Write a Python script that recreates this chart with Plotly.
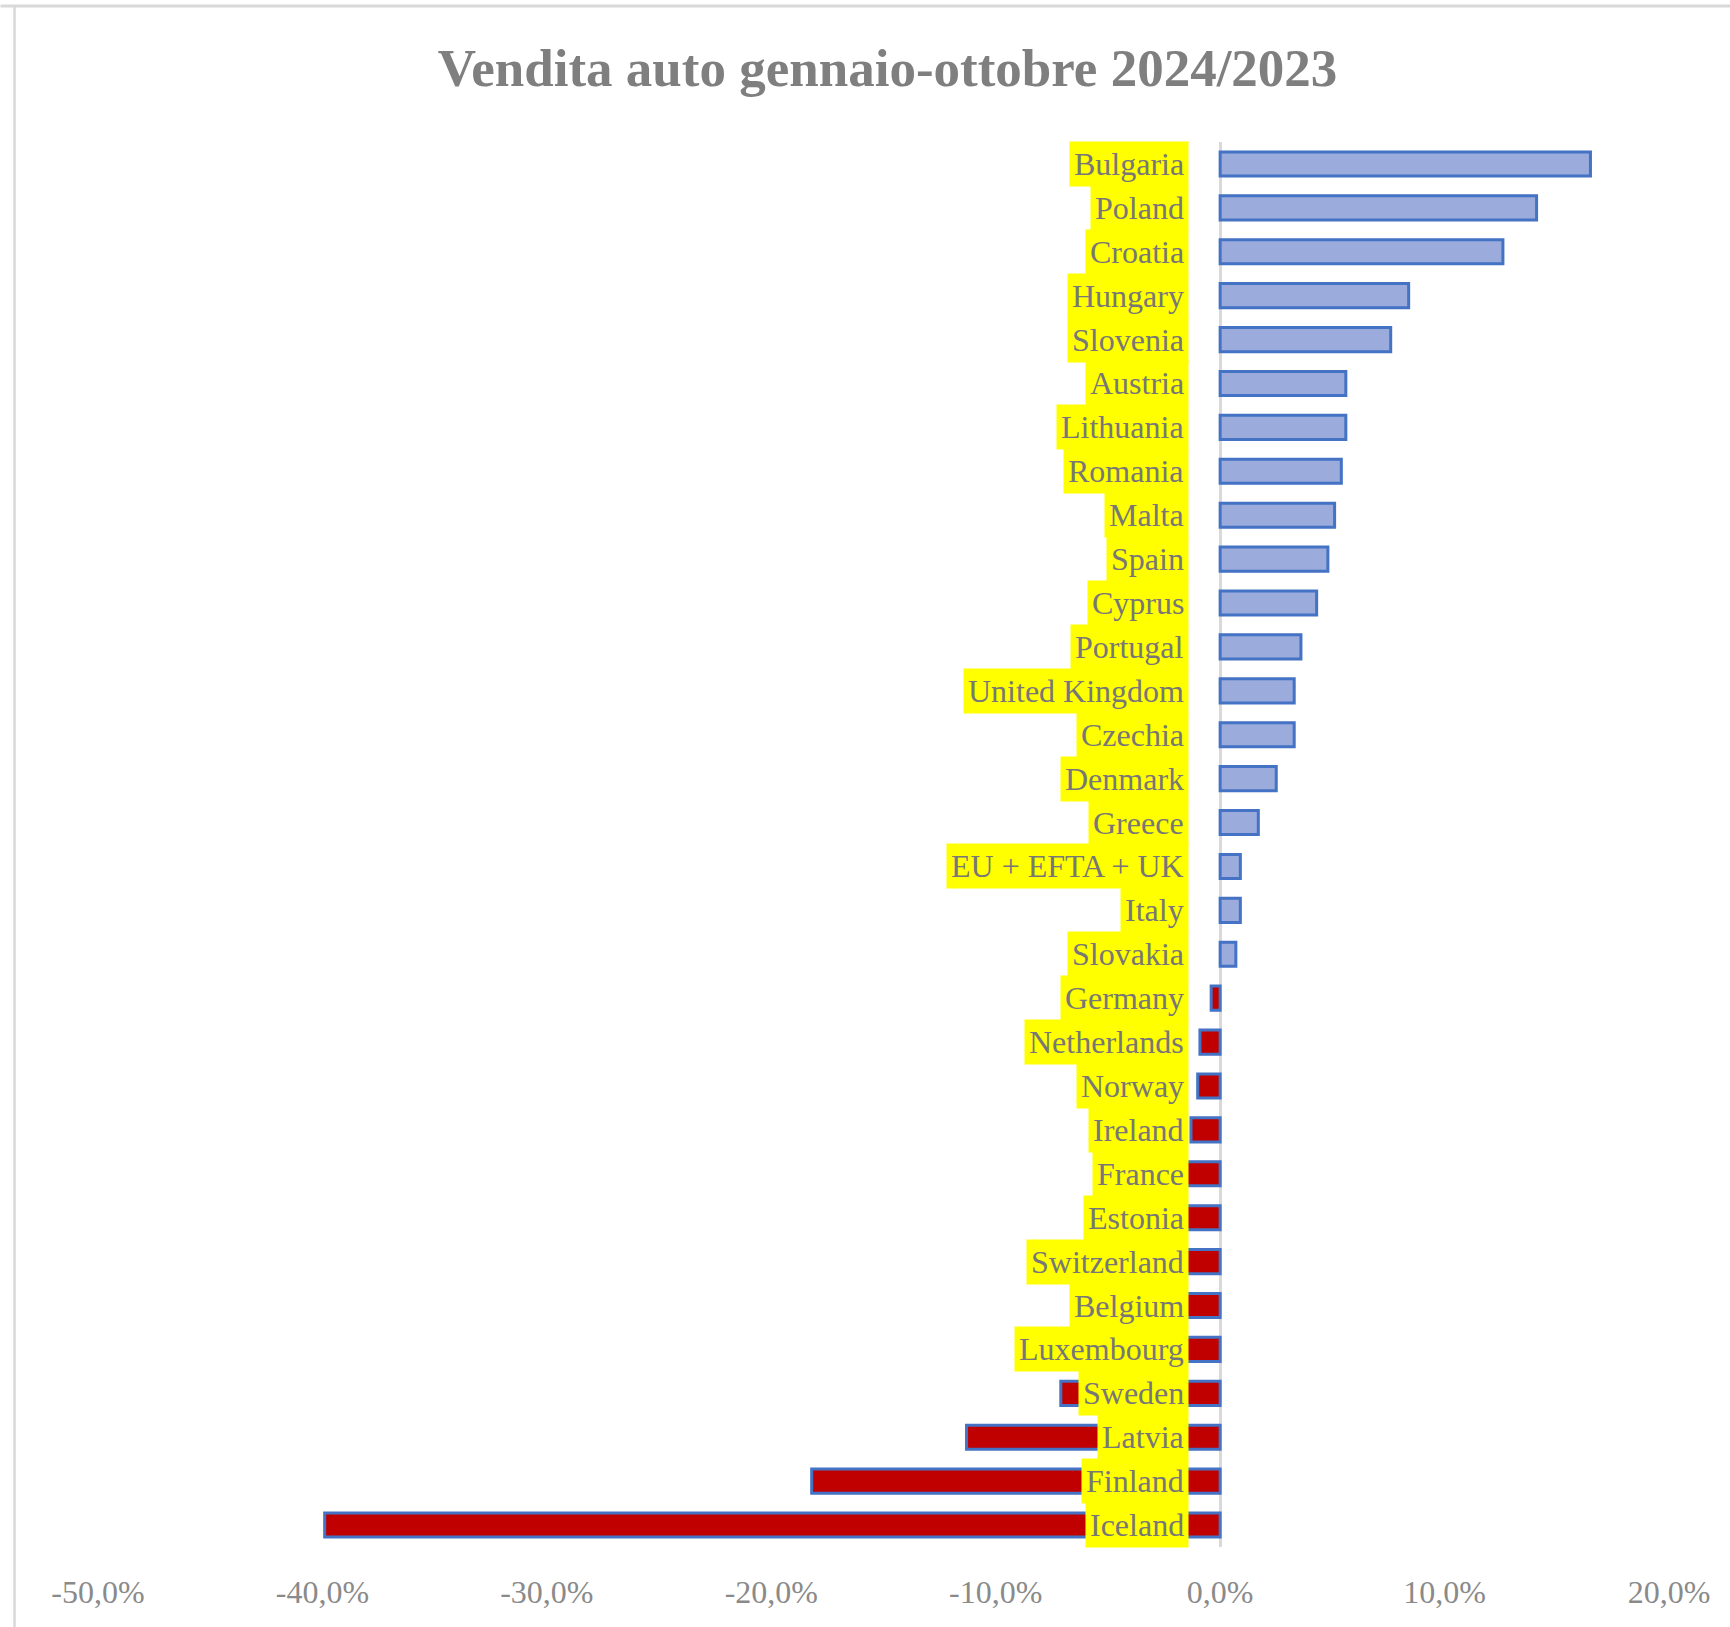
import plotly.graph_objects as go

# ---------------- data ----------------
countries = ["Bulgaria", "Poland", "Croatia", "Hungary", "Slovenia", "Austria",
             "Lithuania", "Romania", "Malta", "Spain", "Cyprus", "Portugal",
             "United Kingdom", "Czechia", "Denmark", "Greece", "EU + EFTA + UK",
             "Italy", "Slovakia", "Germany", "Netherlands", "Norway", "Ireland",
             "France", "Estonia", "Switzerland", "Belgium", "Luxembourg",
             "Sweden", "Latvia", "Finland", "Iceland"]
change_pct = [16.5, 14.1, 12.6, 8.4, 7.6, 5.6,
              5.6, 5.4, 5.1, 4.8, 4.3, 3.6,
              3.3, 3.3, 2.5, 1.7, 0.9,
              0.9, 0.7, -0.4, -0.9, -1.0, -1.3,
              -3.2, -3.6, -4.1, -5.6, -6.3,
              -7.1, -11.3, -18.2, -39.9]
tick_vals = [-50, -40, -30, -20, -10, 0, 10, 20]
tick_text = ["-50,0%", "-40,0%", "-30,0%", "-20,0%", "-10,0%", "0,0%", "10,0%", "20,0%"]
title_text = "Vendita auto gennaio-ottobre 2024/2023"

# ---------------- layout geometry (pixels) ----------------
W, H = 1730, 1627
PL, PR, PT, PB = 97.5, 1669.0, 142.0, 1547.0
FONT = "Liberation Serif"
GRAY = "#7f7f7f"

bar_colors = ["#9aabdc" if v >= 0 else "#c00000" for v in change_pct]

fig = go.Figure()
fig.add_trace(go.Bar(
    x=change_pct, y=countries, orientation="h",
    marker=dict(color=bar_colors, line=dict(color="#4472c4", width=3)),
    width=0.55, showlegend=False, hoverinfo="x+y",
))

annotations = []
for c in countries:
    annotations.append(dict(
        x=0, y=c, xref="x", yref="y", text=c, showarrow=False,
        xanchor="right", yanchor="middle", xshift=-31,
        font=dict(family=FONT, size=32, color="#777777"),
        bgcolor="#ffff00", borderpad=4,
    ))


def px_x(p):
    return (p - PL) / (PR - PL)


def px_y(p):
    return (PB - p) / (PB - PT)


shapes = [
    dict(type="line", xref="paper", yref="paper",
         x0=px_x(0), x1=px_x(W), y0=px_y(6), y1=px_y(6),
         line=dict(color="#d9d9d9", width=3)),
    dict(type="line", xref="paper", yref="paper",
         x0=px_x(14), x1=px_x(14), y0=px_y(6), y1=px_y(H),
         line=dict(color="#d9d9d9", width=2.5)),
]

fig.update_layout(
    width=W, height=H,
    margin=dict(l=PL, r=W - PR, t=PT, b=H - PB, pad=0),
    paper_bgcolor="white", plot_bgcolor="white",
    title=dict(text=title_text, x=887.6 / W, xref="container", xanchor="center",
               y=1 - 67 / H, yanchor="middle",
               font=dict(family=FONT, size=53, color=GRAY, weight="bold")),
    xaxis=dict(range=[-50, 20], tickvals=tick_vals, ticktext=tick_text,
               showgrid=False, zeroline=True, zerolinecolor="#d9d9d9",
               zerolinewidth=2.5, showline=False,
               ticks="outside", ticklen=17, tickcolor="rgba(0,0,0,0)",
               tickfont=dict(family=FONT, size=32, color="#8a8a8a")),
    yaxis=dict(type="category", categoryorder="array", categoryarray=countries,
               range=[len(countries) - 0.5, -0.5], showticklabels=False,
               showgrid=False, zeroline=False, showline=False, ticks=""),
    annotations=annotations,
    shapes=shapes,
)

fig.write_html("out.html", config={"displayModeBar": False},
               post_script="document.body.style.margin='0';document.body.style.overflow='hidden';")
